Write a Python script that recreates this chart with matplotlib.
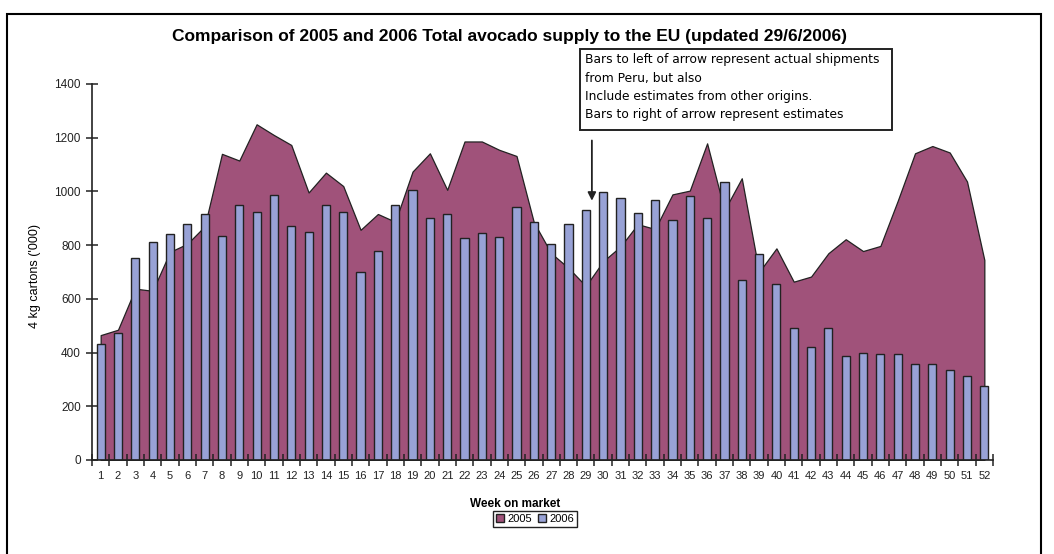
import matplotlib
matplotlib.use("Agg")
import matplotlib.pyplot as plt
from matplotlib.patches import Patch, Rectangle
import numpy as np

# ---------------------------------------
# Data (thousands of 4 kg cartons per week)
# ---------------------------------------
weeks = [str(w) for w in range(1, 53)]

supply_2005 = [465, 485, 638, 630, 775, 805, 870, 1140, 1115, 1250,
               1210, 1173, 996, 1070, 1020, 857, 916, 887, 1074, 1142,
               1006, 1186, 1186, 1155, 1132, 885, 770, 715, 648, 740,
               795, 878, 860, 989, 1003, 1179, 930, 1049, 700, 788,
               664, 683, 770, 822, 778, 797, 965, 1142, 1169, 1145,
               1037, 745]

supply_2006 = [431, 474, 752, 811, 840, 878, 915, 833, 951, 922,
               988, 870, 848, 951, 922, 699, 780, 951, 1004, 900,
               915, 826, 847, 832, 943, 885, 803, 878, 930, 997,
               975, 921, 968, 893, 982, 900, 1034, 669, 766, 654,
               490, 422, 490, 386, 400, 394, 394, 356, 356, 334,
               312, 276]

y_ticks = [0, 200, 400, 600, 800, 1000, 1200, 1400]

note_lines = ["Bars to left of arrow represent actual shipments",
              "from Peru, but also",
              "Include estimates from other origins.",
              "Bars to right of arrow represent estimates"]

col_2005 = "#A0527A"
col_2006 = "#98A2D6"

W, H = 1054, 554

plt.rcParams['font.family'] = ['Liberation Sans', 'DejaVu Sans']

fig = plt.figure(figsize=(W / 100, H / 100), dpi=100)
ax = fig.add_axes([92 / W, 1 - 460 / H, 901 / W, 376 / H])

x = np.arange(len(weeks))

# 2005 as a filled area, 2006 as columns on top
ax.fill_between(x, supply_2005, 0, facecolor=col_2005, edgecolor="#222222",
                linewidth=0.9, zorder=1)
ax.bar(x, supply_2006, width=0.47, color=col_2006, edgecolor="#222222",
       linewidth=1.0, zorder=2)

ax.set_xlim(-0.5, len(weeks) - 0.5)
ax.set_ylim(0, 1400)

# ---------------------------------------
# Axes styling
# ---------------------------------------
for side in ["top", "right"]:
    ax.spines[side].set_visible(False)
for side in ["left", "bottom"]:
    ax.spines[side].set_linewidth(1.2)
    ax.spines[side].set_color("#222222")

ax.set_yticks(y_ticks)
ax.set_yticklabels([str(v) for v in y_ticks])
ax.tick_params(axis="y", direction="inout", length=8, width=1.1,
               labelsize=8.5, pad=4, colors="#222222")

ax.set_xticks(np.arange(-0.5, len(weeks)), minor=False)
ax.set_xticklabels([])
ax.set_xticks(x, minor=True)
ax.set_xticklabels(weeks, minor=True)
ax.tick_params(axis="x", which="major", direction="inout", length=8,
               width=1.1, colors="#222222")
ax.tick_params(axis="x", which="minor", length=0, labelsize=8, pad=8,
               colors="#222222")

ax.set_ylabel("4 kg cartons ('000)", fontsize=9)
ax.yaxis.set_label_coords((41 - 92) / 901, 0.49)
ax.set_xlabel("Week on market", fontsize=8.5, fontweight="bold")
ax.xaxis.label.set_va("center")
ax.xaxis.set_label_coords((515 - 92) / 901, (460 - 504) / 376)

fig.text(0.483, 1 - 36 / H, "Comparison of 2005 and 2006 Total avocado supply "
         "to the EU (updated 29/6/2006)",
         ha="center", va="center", fontsize=12.5, fontweight="bold")

# note box with its four lines, and the arrow below it
fig.patches.append(Rectangle((580 / W, 1 - 130 / H), 312 / W, 81 / H,
                             transform=fig.transFigure, facecolor="white",
                             edgecolor="#222222", linewidth=1.4, zorder=5))
for k, line in enumerate(note_lines):
    fig.text(585 / W, 1 - (60 + 18.3 * k) / H, line, ha="left", va="center",
             fontsize=8.8, family=["DejaVu Sans"], zorder=6)

ax.annotate("", xy=(28.35, 955), xytext=(28.35, 1200),
            arrowprops=dict(arrowstyle="-|>", color="#222222", lw=1.3,
                            mutation_scale=12))

handles = [Patch(facecolor=col_2005, edgecolor="#222222", label="2005"),
           Patch(facecolor=col_2006, edgecolor="#222222", label="2006")]
leg = fig.legend(handles=handles, loc="center", ncol=2,
                 bbox_to_anchor=(535 / W, 1 - 519 / H), fontsize=8,
                 handlelength=0.7, handleheight=0.7, handletextpad=0.3,
                 columnspacing=0.6, borderpad=0.3, fancybox=False,
                 framealpha=1)
leg.get_frame().set_edgecolor("#222222")
leg.get_frame().set_linewidth(1.0)

# outer frame round the chart
fig.patches.append(Rectangle((7 / W, -0.05), 1034 / W, 1 - 14 / H + 0.05,
                             transform=fig.transFigure, fill=False,
                             edgecolor="black", linewidth=1.5))

fig.savefig("out.png", dpi=100)
